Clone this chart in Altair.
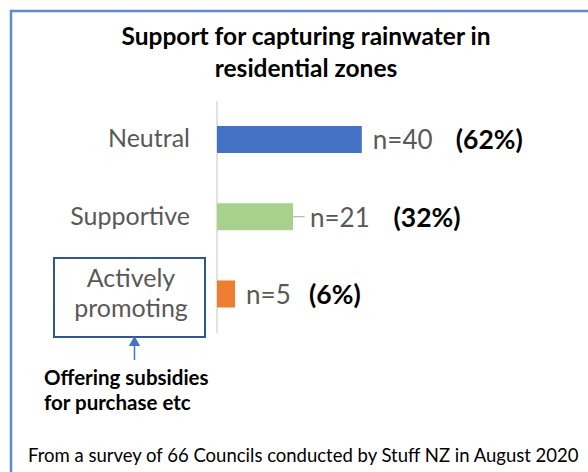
import altair as alt
import pandas as pd

# ---- data ----
categories = ["Neutral", "Supportive", "Actively promoting"]
counts = [40, 21, 5]
percents = ["(62%)", "(32%)", "(6%)"]
n_labels = ["n=40", "n=21", "n=5"]
title_lines = ["Support  for capturing rainwater in", "residential zones"]
note_lines = ["Offering subsidies", "for purchase etc"]
footer_text = "From a survey of 66 Councils conducted by Stuff NZ in August 2020"

bar_colors = ["#4472C4", "#A9D18E", "#ED7D31"]
FONT = "Lato"
PX = 3.62  # pixels per council

df = pd.DataFrame({"category": categories, "count": counts, "pct": percents, "nlab": n_labels})
one = pd.DataFrame({"k": [0]})

x_scale = alt.Scale(domain=[-217 / PX, 371 / PX], nice=False, zero=False)
y_scale = alt.Scale(domain=categories, range=[100.85, 332.6], paddingInner=0.65, paddingOuter=0.325)
Y = alt.Y("category:N", scale=y_scale, axis=None)

base = alt.Chart(df)

bars = base.mark_bar().encode(
    x=alt.X("count:Q", scale=x_scale, axis=None),
    x2=alt.datum(0),
    y=Y,
    color=alt.Color("category:N", scale=alt.Scale(domain=categories, range=bar_colors), legend=None),
)

lead = "datum.category == 'Supportive' ? 17 : 11"

nlab = base.transform_calculate(
    nx=f"datum.count + ({lead}) / {PX}"
).mark_text(align="left", baseline="middle", font=FONT, fontSize=26, color="#595959", dy=2).encode(
    x=alt.X("nx:Q", scale=x_scale, axis=None), y=Y, text="nlab:N"
)

pctlab = base.transform_calculate(
    px=f"datum.count + (20 * length(datum.nlab) + 14 + (datum.category == 'Supportive' ? 6.5 : 0)) / {PX}"
).mark_text(align="left", baseline="middle", font=FONT, fontSize=26.5, fontWeight="bold", color="#000000", dy=2).encode(
    x=alt.X("px:Q", scale=x_scale, axis=None), y=Y, text="pct:N"
)

leader = base.transform_filter("datum.category == 'Supportive'").transform_calculate(
    lx="datum.count + 3.2"
).mark_rule(color="#A6A6A6", strokeWidth=1).encode(
    x=alt.X("count:Q", scale=x_scale, axis=None), x2="lx:Q",
    y=alt.Y("category:N", scale=y_scale, axis=None, bandPosition=0.5)
)

catlab = base.transform_filter("datum.category != 'Actively promoting'").mark_text(
    align="right", baseline="middle", font=FONT, fontSize=25, color="#595959"
).encode(x=alt.value(190), y=Y, text="category:N")

catlab2 = base.transform_filter("datum.category == 'Actively promoting'").transform_calculate(
    lab="split(datum.category, ' ')"
).mark_text(
    align="center", baseline="middle", font=FONT, fontSize=25, color="#595959", lineHeight=30, dy=-15
).encode(x=alt.value(131), y=Y, text="lab:N")

axis_line = alt.Chart(one).mark_rule(color="#D9D9D9", strokeWidth=1.5).encode(
    x=alt.X(datum=0, type="quantitative", scale=x_scale, axis=None), y=alt.value(101), y2=alt.value(333)
)

frame = alt.Chart(one).mark_rect(filled=False, stroke="#5B8BD0", strokeWidth=2.5).encode(
    x=alt.value(11), y=alt.value(11), x2=alt.value(700), y2=alt.value(600)
)

box = alt.Chart(one).mark_rect(filled=False, stroke="#2F5597", strokeWidth=2).encode(
    x=alt.value(54), x2=alt.value(205), y=alt.value(258), y2=alt.value(337)
)

arrow_line = alt.Chart(one).mark_rule(color="#4472C4", strokeWidth=1.5).encode(
    x=alt.value(134.5), y=alt.value(342), y2=alt.value(360)
)
arrow_head = alt.Chart(one).mark_point(shape="triangle-up", filled=True, size=130, color="#4472C4", opacity=1).encode(
    x=alt.value(134.5), y=alt.value(341)
)

title = alt.Chart(one).mark_text(
    align="center", baseline="middle", font=FONT, fontSize=24.5, fontWeight="bold", color="#000000", lineHeight=32
).encode(x=alt.value(306), y=alt.value(38), text=alt.value(title_lines))

note = alt.Chart(one).mark_text(
    align="left", baseline="middle", font=FONT, fontSize=20.5, fontWeight="bold", color="#000000", lineHeight=25
).encode(x=alt.value(44), y=alt.value(379), text=alt.value(note_lines))

footer = alt.Chart(one).mark_text(
    align="left", baseline="middle", font=FONT, fontSize=18.5, color="#000000"
).encode(x=alt.value(28), y=alt.value(456), text=alt.value(footer_text))

chart = alt.layer(
    frame, axis_line, bars, leader, nlab, pctlab, catlab, catlab2, box, arrow_line, arrow_head, title, note, footer
).properties(
    width=588, height=472, autosize=alt.AutoSizeParams(type="none"), padding=0, background="#FFFFFF"
).configure_view(stroke=None)

chart.save("out.html", embed_options={"renderer": "svg", "actions": False})
